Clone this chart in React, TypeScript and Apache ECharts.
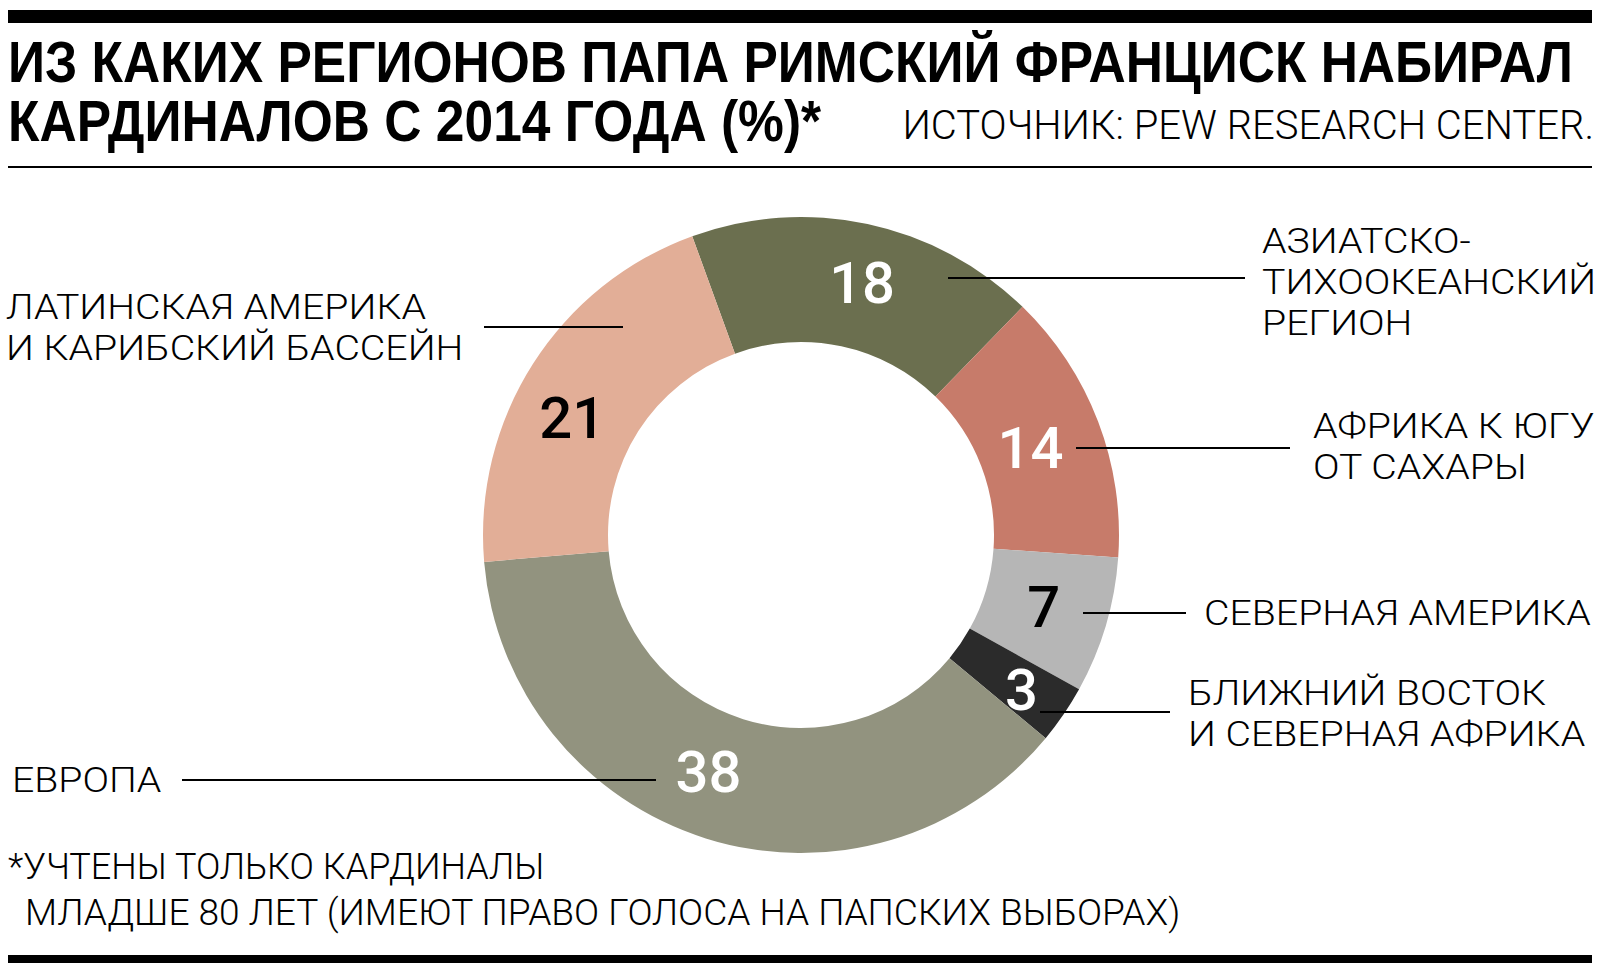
import React, { useEffect, useRef } from "react";
import * as echarts from "echarts";

const categories = [
  "Азиатско-Тихоокеанский регион",
  "Африка к югу от Сахары",
  "Северная Америка",
  "Ближний Восток и Северная Африка",
  "Европа",
  "Латинская Америка и Карибский бассейн",
];
const values = [18, 14, 7, 3, 38, 21];
const colors = ["#6b6f4f", "#c77b6a", "#b6b6b6", "#2b2b2b", "#92937f", "#e2ae97"];
const valueColors = ["#ffffff", "#ffffff", "#000000", "#ffffff", "#ffffff", "#000000"];

const outerLabels = [
  ["АЗИАТСКО-", "ТИХООКЕАНСКИЙ", "РЕГИОН"],
  ["АФРИКА К ЮГУ", "ОТ САХАРЫ"],
  ["СЕВЕРНАЯ АМЕРИКА"],
  ["БЛИЖНИЙ ВОСТОК", "И СЕВЕРНАЯ АФРИКА"],
  ["ЕВРОПА"],
  ["ЛАТИНСКАЯ АМЕРИКА", "И КАРИБСКИЙ БАССЕЙН"],
];

const titleLines = ["ИЗ КАКИХ РЕГИОНОВ ПАПА РИМСКИЙ ФРАНЦИСК НАБИРАЛ", "КАРДИНАЛОВ С 2014 ГОДА (%)*"];
const sourceText = "ИСТОЧНИК: PEW RESEARCH CENTER.";
const footnoteLines = ["*УЧТЕНЫ ТОЛЬКО КАРДИНАЛЫ", "МЛАДШЕ 80 ЛЕТ (ИМЕЮТ ПРАВО ГОЛОСА НА ПАПСКИХ ВЫБОРАХ)"];

// annotation layout: label anchor x, first line y, leader line x1, x2, y
const annotLayout = [
  { x: 1262, y: 241, lx1: 948, lx2: 1245, ly: 278 },
  { x: 1313, y: 426, lx1: 1076, lx2: 1290, ly: 448 },
  { x: 1204, y: 613, lx1: 1083, lx2: 1186, ly: 613 },
  { x: 1188, y: 693, lx1: 1040, lx2: 1170, ly: 712 },
  { x: 12, y: 780, lx1: 182, lx2: 656, ly: 780 },
  { x: 6, y: 307, lx1: 484, lx2: 623, ly: 327 },
];
// fine shifts of the in-ring value labels
const valueLabelShift = [
  [7, 1],
  [-12, 5],
  [-5, -2],
  [7, 9],
  [-15, -10],
  [-11, 22],
];

const LABEL_FONT = "Roboto, 'Noto Sans', sans-serif";

export default function App() {
  const ref = useRef<HTMLDivElement>(null);
  useEffect(() => {
    document.body.style.margin = "0";
    const chart = echarts.init(ref.current!, null, { renderer: "svg" });
    const graphics: any[] = [];
    graphics.push({ type: "rect", shape: { x: 8, y: 10, width: 1584, height: 13 }, style: { fill: "#000" } });
    graphics.push({ type: "rect", shape: { x: 8, y: 166, width: 1584, height: 2 }, style: { fill: "#000" } });
    graphics.push({ type: "rect", shape: { x: 8, y: 955, width: 1584, height: 8 }, style: { fill: "#000" } });
    titleLines.forEach((t, i) => {
      graphics.push({
        type: "text",
        x: 8,
        y: i === 0 ? 63 : 122,
        scaleX: 0.904,
        style: {
          text: t,
          fill: "#000",
          font: "bold 57px 'Liberation Sans', Arial, sans-serif",
          textVerticalAlign: "middle",
        },
      });
    });
    graphics.push({
      type: "text",
      x: 1594,
      y: 125,
      style: {
        text: sourceText,
        fill: "#000",
        font: `300 40px ${LABEL_FONT}`,
        textAlign: "right",
        textVerticalAlign: "middle",
      },
    });
    footnoteLines.forEach((t, i) => {
      graphics.push({
        type: "text",
        x: i === 0 ? 8 : 25,
        y: i === 0 ? 867 : 913,
        scaleX: i === 0 ? 1.0 : 1.03,
        style: {
          text: t,
          fill: "#000",
          font: `300 36px ${LABEL_FONT}`,
          textVerticalAlign: "middle",
        },
      });
    });
    annotLayout.forEach((a, i) => {
      graphics.push({
        type: "line",
        shape: { x1: a.lx1, y1: a.ly, x2: a.lx2, y2: a.ly },
        style: { stroke: "#000", lineWidth: 2 },
        z: 10,
      });
      outerLabels[i].forEach((line, j) => {
        graphics.push({
          type: "text",
          x: a.x,
          y: a.y + j * 41,
          scaleX: 1.09,
          style: {
            text: line,
            fill: "#000",
            font: `300 36px ${LABEL_FONT}`,
            textVerticalAlign: "middle",
          },
        });
      });
    });

    chart.setOption({
      animation: false,
      backgroundColor: "#ffffff",
      graphic: graphics,
      series: [
        {
          type: "pie",
          center: [801, 535],
          radius: [193, 318],
          startAngle: 110,
          clockwise: true,
          silent: true,
          label: {
            show: true,
            position: "inside",
            formatter: "{c}",
            fontSize: 58,
            fontWeight: 500,
            fontFamily: LABEL_FONT,
          },
          labelLine: { show: false },
          labelLayout: (p: any) => ({
            dx: valueLabelShift[p.dataIndex][0],
            dy: valueLabelShift[p.dataIndex][1],
          }),
          data: values.map((v, i) => ({
            name: categories[i],
            value: v,
            itemStyle: { color: colors[i] },
            label: { color: valueColors[i] },
          })),
        },
      ],
    });
    return () => chart.dispose();
  }, []);
  return <div ref={ref} style={{ width: 1600, height: 971 }} />;
}
